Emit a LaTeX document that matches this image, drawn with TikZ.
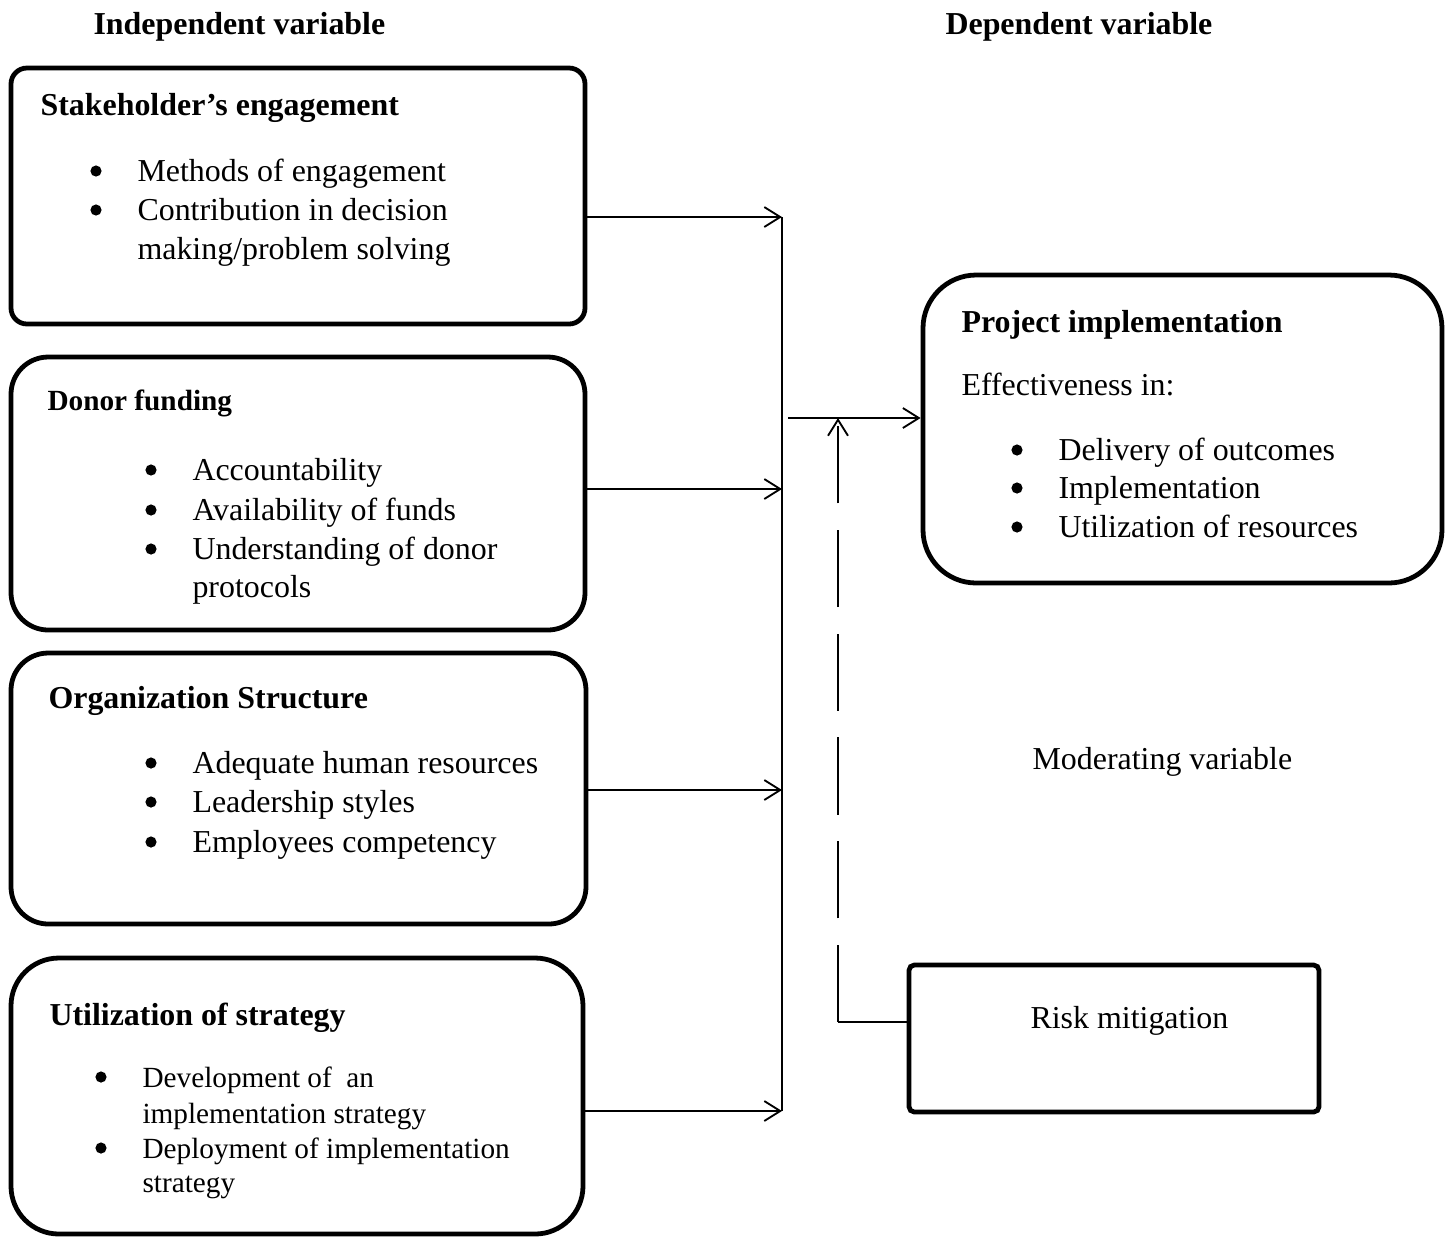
\documentclass[tikz,border=0pt]{standalone}
\usepackage{fontspec}
\setmainfont{Liberation Serif}
\usetikzlibrary{arrows.meta,fit,calc}

\tikzset{
  box/.style={draw, line width=1.8pt, rounded corners=#1, inner sep=0pt},
  box/.default=14pt,
  head/.style={font=\fontsize{12}{14}\selectfont\bfseries, inner sep=0pt, anchor=base west},
  item/.style={font=\fontsize{12}{14}\selectfont, inner sep=0pt, anchor=base west},
  small/.style={font=\fontsize{11}{13}\selectfont, inner sep=0pt, anchor=base west},
  link/.style={line width=0.7pt},
  modline/.style={line width=0.7pt, dash pattern=on 29pt off 10pt},
}
\newcommand{\varbox}[6] {
  \node[box=#2, fit={(#3,#4) (#5,#6)}] (#1) {}; % name, corners, two corners of the frame
}
\newcommand{\drawitems}[3] {
    \foreach \nm/\yy/\txt in {#3} {
      \fill (#1,\yy-10) circle (2.1pt);
      \node[#2] (\nm) at (#1+41,\yy) {\txt};
    }
}

\begin{document}
\begin{tikzpicture}[x=0.013216cm, y=-0.013216cm, >={Straight Barb[length=6pt,width=7.5pt]}]
    \useasboundingbox (0,0) rectangle (1454,1237);
    \node[head] (indep) at (93,34) {Independent variable};
    \node[head] (dep) at (945,34) {Dependent variable};

    % independent variables
    \varbox{stake}{6pt}{11}{68}{585}{324}
    \node[head] (stakeT) at (40,115) {Stakeholder’s engagement};
    \drawitems{96}{item}{s1/181/Methods of engagement, s2/220/Contribution in decision}
    \node[item] (s2b) at (137,259) {making/problem solving};

    \varbox{donor}{14pt}{11}{357}{585}{630}
    \node[head, font=\fontsize{11}{13}\selectfont\bfseries] (donorT) at (47,410) {Donor funding};
    \drawitems{151}{item}{d1/480/Accountability, d2/520/Availability of funds, d3/559/Understanding of donor}
    \node[item] (d3b) at (192,597) {protocols};

    \varbox{org}{14pt}{11}{653}{586}{924}
    \node[head] (orgT) at (48,708) {Organization Structure};
    \drawitems{151}{item}{o1/773/Adequate human resources, o2/812/Leadership styles, o3/852/Employees competency}

    \varbox{util}{18pt}{11}{958}{583}{1234}
    \node[head] (utilT) at (49,1025) {Utilization of strategy};
    \drawitems{101}{small}{u1/1087/Development of \ an, u2/1158/Deployment of implementation}
    \node[small] (u1b) at (142,1123) {implementation strategy};
    \node[small] (u2b) at (142,1192) {strategy};

    % dependent variable
    \varbox{proj}{20pt}{923}{275}{1442}{583}
    \node[head] (projT) at (961,332) {Project implementation};
    \node[item] (effT) at (961,395) {Effectiveness in:};
    \drawitems{1017}{item}{p1/460/Delivery of outcomes, p2/498/Implementation, p3/537/Utilization of resources}

    % moderating variable
    \node[item] (modT) at (1032,769) {Moderating variable};
    \varbox{risk}{2pt}{909}{965}{1319}{1112}
    \node[item] (riskT) at (1030,1028) {Risk mitigation};

    \coordinate (b0) at (788,418);
    \coordinate (b1) at (782,217);
    \coordinate (b2) at (782,489);
    \coordinate (b3) at (782,790);
    \coordinate (b4) at (782,1111);
    \coordinate (m1) at (838,1022);
    \draw[link] (b1) -- (b4);
    \foreach \bx/\bp in {stake/b1, donor/b2, org/b3, util/b4}
      \draw[link, ->] (\bx.east |- \bp) -- (\bp);
    \draw[link, ->] (b0) -- (b0 -| proj.west);
    \draw[link] (m1 -| risk.west) -- (m1);
    \draw[modline, ->] (m1) -- (m1 |- b0);
\end{tikzpicture}
\end{document}
